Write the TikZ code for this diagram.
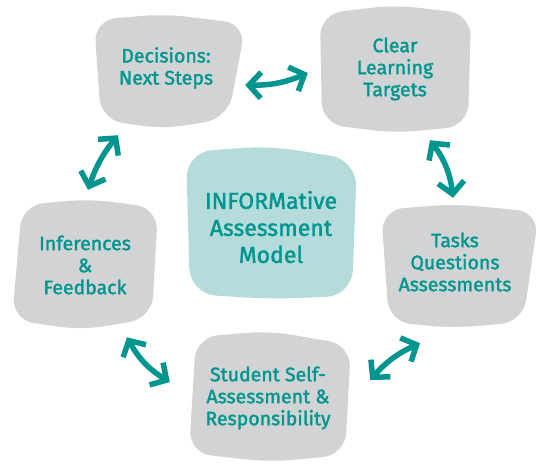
\documentclass[tikz,border=0pt]{standalone}
\usepackage{fontspec}
\setmainfont{Fira Sans}[FakeBold=1.6]
\usetikzlibrary{arrows.meta}

\definecolor{infoteal}{HTML}{00968F}
\definecolor{blobgray}{HTML}{D1D3D4}
\definecolor{hubteal}{HTML}{B5DCDB}

\begin{document}
\begin{tikzpicture}[
  x=1pt, y=-1pt,
  stage/.style={text=infoteal, align=center, inner sep=0pt,
    font=\fontsize{19.5}{22}\selectfont},
  blob/.style={fill=blobgray, rounded corners=22pt},
  hub/.style={fill=hubteal, rounded corners=26pt},
  link/.style={line width=5.5pt, draw=infoteal,
    {Straight Barb[length=12pt,width=26pt]}-{Straight Barb[length=12pt,width=26pt]}}
]
\useasboundingbox (0,0) rectangle (545,463);

% the five stages and the hub
\path [blob] (94,20) -- (165,14) -- (246,24) -- (228,118) -- (165,129) -- (101,120) -- cycle;
\path [blob] (320,14) -- (395,5) -- (471,14) -- (468,126) -- (395,133) -- (322,124) -- cycle;
\path [blob] (381,210) -- (453,204) -- (539,212) -- (523,322) -- (453,328) -- (389,322) -- cycle;
\path [blob] (196,337) -- (270,331) -- (351,345) -- (345,455) -- (270,462) -- (189,453) -- cycle;
\path [blob] (22,205) -- (90,199) -- (158,208) -- (152,318) -- (83,330) -- (12,320) -- cycle;
\path [hub] (186,152) -- (270,146) -- (357,160) -- (352,296) -- (270,299) -- (190,294) -- cycle;

\node [stage, minimum width=150pt, minimum height=110pt] (dec) at (166,68) {Decisions:\\Next Steps};
\node [stage, minimum width=150pt, minimum height=124pt] (clr) at (395,69) {Clear\\Learning\\Targets};
\node [stage, minimum width=156pt, minimum height=120pt] (tsk) at (455,262) {Tasks\\Questions\\Assessments};
\node [stage, minimum width=160pt, minimum height=124pt] (stu) at (268,398) {Student Self-\\Assessment \&\\Responsibility};
\node [stage, minimum width=144pt, minimum height=126pt] (inf) at (85,265) {Inferences\\\&\\Feedback};
\node [stage, minimum width=170pt, minimum height=148pt,
  font=\fontsize{23}{27}\selectfont] (mod) at (271,227) {INFORMative\\Assessment\\Model};

% two-way links round the cycle
\draw [link] ([xshift=4pt,yshift=-17pt]dec.east) to [bend right=12] ([xshift=-12pt,yshift=-4pt]clr.west);
\draw [link] ([xshift=35pt,yshift=-9pt]clr.south) to [bend left=15] ([xshift=-2pt,yshift=4pt]tsk.north);
\draw [link] ([xshift=-35pt,yshift=-21pt]tsk.south) to [bend right=12] ([xshift=22pt,yshift=18pt]stu.east);
\draw [link] ([xshift=42pt,yshift=-9pt]inf.south) to [bend right=15] ([xshift=-18pt,yshift=16pt]stu.west);
\draw [link] ([xshift=3pt,yshift=12pt]inf.north) to [bend left=10] ([xshift=-48pt,yshift=-12pt]dec.south);
\end{tikzpicture}
\end{document}
